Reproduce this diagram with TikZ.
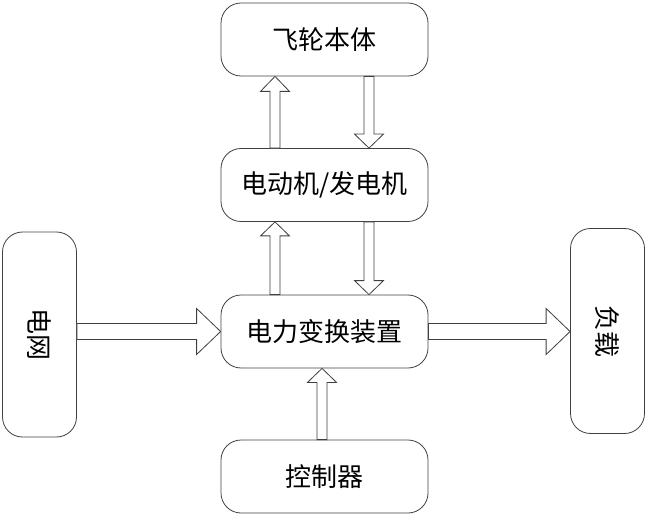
\documentclass[tikz,border=0pt]{standalone}
\usepackage{fontspec}
\usepackage{graphicx}
\newfontfamily\cjk{Noto Sans CJK SC}
\usetikzlibrary{calc}
\definecolor{linec}{HTML}{404040}
\tikzset{
 box/.style={draw=linec, line width=0.8pt, rounded corners=20pt, minimum width=207pt, minimum height=73pt, inner sep=0pt, font=\cjk\fontsize{26}{30}\selectfont, text=black},
 sidebox/.style={box, minimum width=74pt, minimum height=205pt},
 fat/.style={draw=linec, line width=0.8pt, fill=white, line join=miter},
}
\newcommand\fatarrow[5]{%
 \path ($(#2)!#5!(#1)$) coordinate (fah);
 \draw[fat] ($(#1)!#3!90:(#2)$) -- ($(fah)!#3!90:(#2)$) -- ($(fah)!#4!90:(#2)$) -- (#2) -- ($(fah)!#4!-90:(#2)$) -- ($(fah)!#3!-90:(#2)$) -- ($(#1)!#3!-90:(#2)$) -- cycle;}
\begin{document}
\begin{tikzpicture}[x=1pt,y=1pt]
\useasboundingbox (0,0) rectangle (650,520);
\node[box] (fly) at (324.5,480.5) {飞轮本体};
\node[box] (motor) at (324.5,335) {电动机/发电机};
\node[box] (conv) at (324.5,188.5) {电力变换装置};
\node[box] (ctrl) at (324.5,43.5) {控制器};
\node[sidebox] (grid) at (39.5,185.5) {\rotatebox{-90}{电网}};
\node[sidebox] (load) at (607.5,189) {\rotatebox{-90}{负载}};
\coordinate (xl) at (275,0);
\coordinate (xr) at (369,0);
\coordinate (xc) at (322,0);
\fatarrow{motor.north -| xl}{fly.south -| xl}{5pt}{14.5pt}{15pt}
\fatarrow{fly.south -| xr}{motor.north -| xr}{5pt}{14.5pt}{14pt}
\fatarrow{conv.north -| xl}{motor.south -| xl}{5pt}{14.5pt}{14pt}
\fatarrow{motor.south -| xr}{conv.north -| xr}{5pt}{14.5pt}{14pt}
\fatarrow{ctrl.north -| xc}{conv.south -| xc}{5pt}{14.5pt}{14pt}
\fatarrow{grid.east |- conv.west}{conv.west}{8pt}{23pt}{24pt}
\fatarrow{conv.east}{load.west |- conv.east}{8pt}{23pt}{24pt}
\end{tikzpicture}
\end{document}
